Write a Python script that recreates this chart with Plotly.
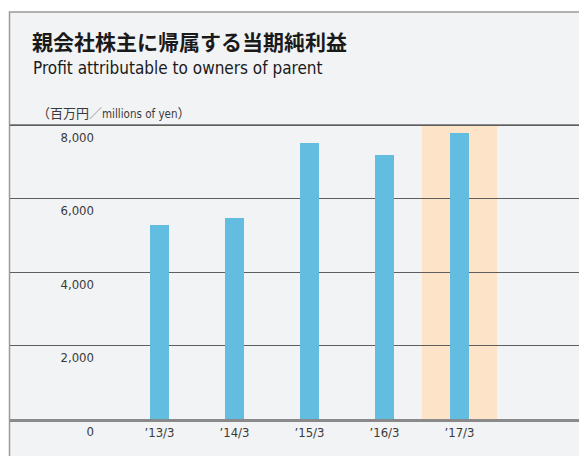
import plotly.graph_objects as go

# ---- data ----
categories = ["’13/3", "’14/3", "’15/3", "’16/3", "’17/3"]
profit = [5280, 5470, 7510, 7180, 7780]
highlight_index = 4
y_tick_vals = [0, 2000, 4000, 6000, 8000]
y_tick_text = ["0", "2,000", "4,000", "6,000", "8,000"]

NARROW = "DejaVu Sans Condensed"

title_ja = "親会社株主に帰属する当期純利益"
title_en = "Profit attributable to owners of parent"
unit_label = ("（百万円<span style='color:#9a9a9a'>／</span>"
              "<span style='font-family:" + NARROW +
              ";font-size:11.5px'>millions of yen</span>）")

# ---- layout constants (page body has an 8px margin) ----
OFF = 8
W, H = 587 - OFF, 456 - OFF
ML, MR, MT, MB = 2, 0, 116, 37
PW, PH = W - ML - MR, H - MT - MB
Y_MAX = 8030


def px(x):
    return (x - OFF - ML) / PW


def py(y):
    return (H - MB - (y - OFF)) / PH


TEXT = "#3a3a3a"

fig = go.Figure()
fig.add_trace(go.Bar(
    x=categories, y=profit, width=0.25,
    marker=dict(color="#62bde1", line=dict(width=0)),
    hoverinfo="x+y",
))

shapes = [
    dict(type="rect", xref="paper", yref="paper",
         x0=px(9.5), x1=px(600), y0=py(12), y1=py(480),
         fillcolor="#f2f3f5", line=dict(color="#9a9a9a", width=1.5), layer="below"),
    dict(type="rect", xref="x", yref="y",
         x0=highlight_index - 0.5, x1=highlight_index + 0.5,
         y0=0, y1=y_tick_vals[-1],
         fillcolor="#fde3c8", line=dict(width=0), layer="below"),
    dict(type="line", xref="paper", yref="y",
         x0=px(9.5), x1=1, y0=y_tick_vals[-1], y1=y_tick_vals[-1],
         line=dict(color="#8c8c8c", width=2), layer="between"),
]

annotations = [
    dict(text="<b>" + title_ja + "</b>", xref="paper", yref="paper",
         x=px(30), y=py(41), xanchor="left", yanchor="middle", showarrow=False,
         font=dict(family="Noto Sans CJK JP", size=21, color="#1a1a1a")),
    dict(text=title_en, xref="paper", yref="paper",
         x=px(31), y=py(68), xanchor="left", yanchor="middle", showarrow=False,
         font=dict(family=NARROW, size=17, color="#1a1a1a")),
    dict(text=unit_label, xref="paper", yref="paper",
         x=px(35), y=py(113), xanchor="left", yanchor="middle", showarrow=False,
         font=dict(family="Noto Sans CJK JP", size=13, color=TEXT)),
]

fig.update_layout(
    width=W, height=H,
    margin=dict(l=ML, r=MR, t=MT, b=MB, pad=0),
    paper_bgcolor="white",
    plot_bgcolor="rgba(0,0,0,0)",
    showlegend=False,
    shapes=shapes,
    annotations=annotations,
    bargap=0,
    xaxis=dict(
        type="category",
        range=[-1.993, 5.7],
        showgrid=False, zeroline=False,
        showline=True, linecolor="#8a8a8a", linewidth=2.5,
        ticks="", ticklabelstandoff=0,
        tickfont=dict(family=NARROW, size=13, color=TEXT),
        fixedrange=True,
    ),
    yaxis=dict(
        range=[0, Y_MAX],
        anchor="free", position=px(94),
        tickvals=y_tick_vals, ticktext=y_tick_text,
        showgrid=True, gridcolor="#5e5e5e", gridwidth=1.3,
        zeroline=False, showline=False, ticks="",
        ticklabelshift=12,
        tickfont=dict(family=NARROW, size=13, color=TEXT),
        fixedrange=True,
    ),
)

fig.write_html("out.html")
